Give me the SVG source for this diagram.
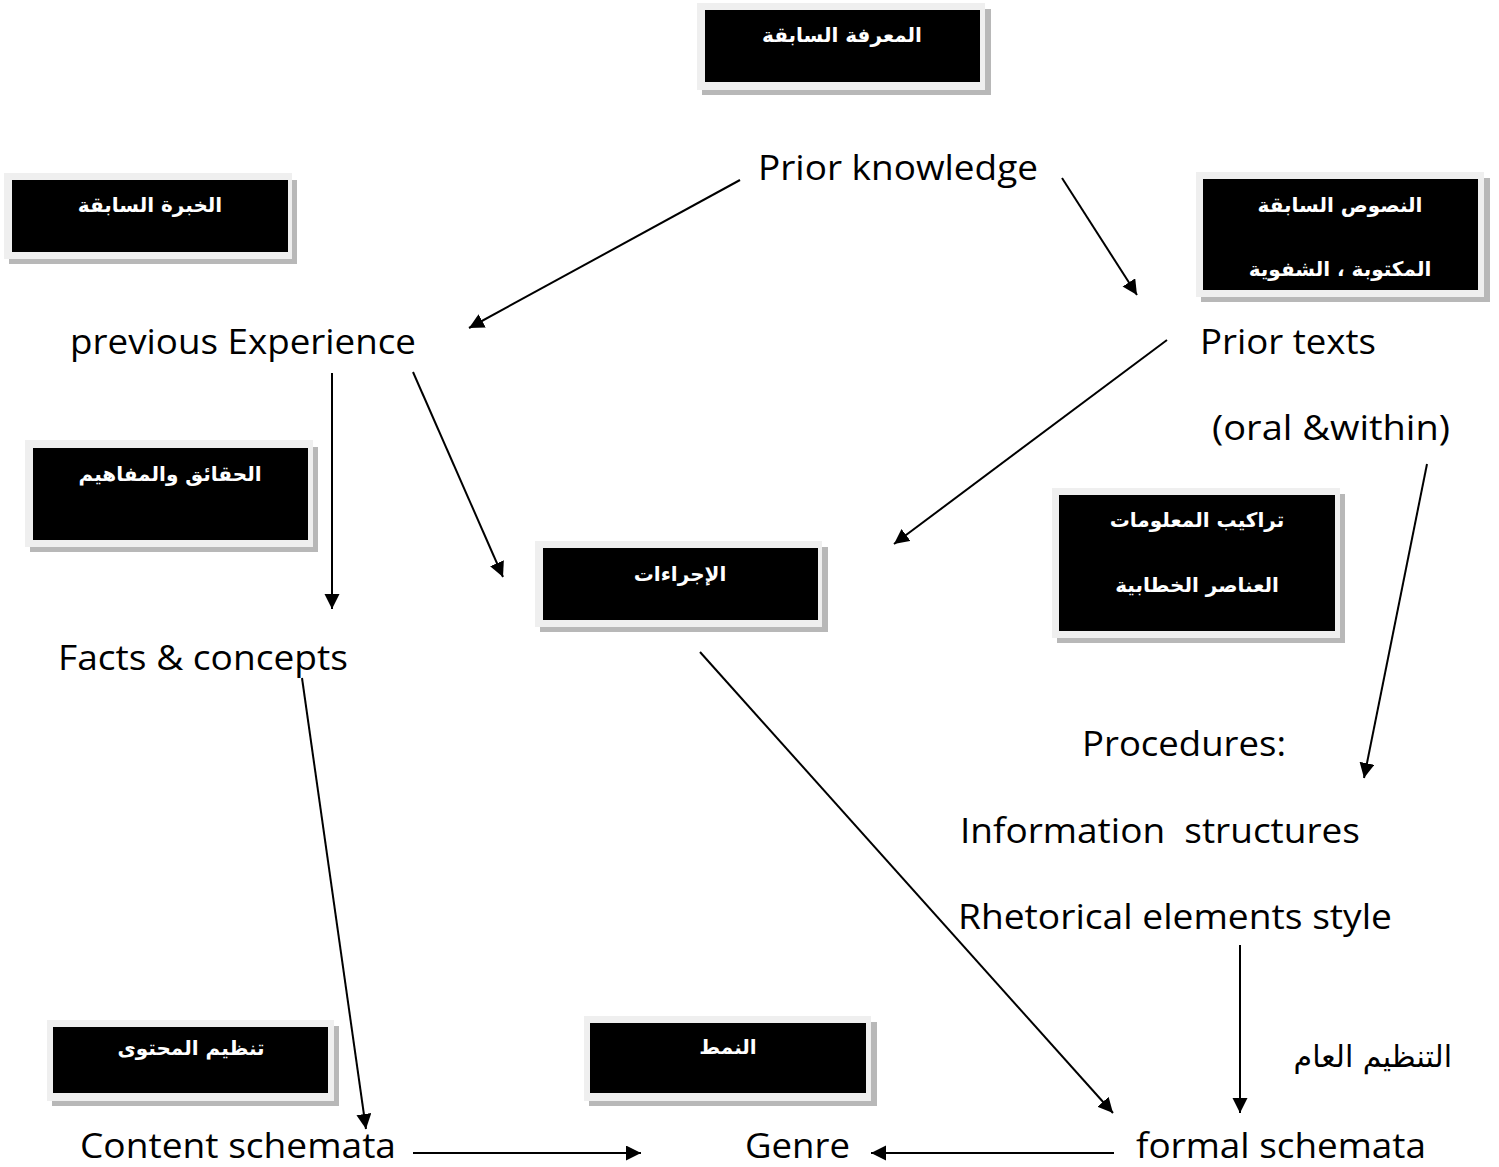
<svg xmlns="http://www.w3.org/2000/svg" width="1499" height="1167" viewBox="0 0 1499 1167">
<style>
.frame{fill:#efefef}
.shadow{fill:#b8b8b8}
.box{fill:#000}
.ar{font-family:"DejaVu Sans","Noto Sans",sans-serif;font-weight:bold;font-size:20px;fill:#fff;text-anchor:middle}
.en{font-family:"Open Sans","Noto Sans",sans-serif;font-size:35px;fill:#000}
.arp{font-family:"DejaVu Sans","Noto Sans",sans-serif;font-size:30px;fill:#000}
.con{stroke:#000;stroke-width:2;fill:none;marker-end:url(#ah)}
</style>
<defs>
<marker id="ah" markerUnits="userSpaceOnUse" markerWidth="18" markerHeight="16" refX="15" refY="7.5" orient="auto">
<path d="M0,0 L15,7.5 L0,15 Z" fill="#000"/>
</marker>
</defs>
<rect width="1499" height="1167" fill="#fff"/>

<g id="n-marifa">
<rect class="shadow" x="702" y="9" width="289" height="86"/>
<rect class="frame" x="697" y="3" width="288" height="87"/>
<rect class="box" x="705" y="10" width="275" height="72"/>
<text class="ar" x="842" y="42">المعرفة السابقة</text>
</g>
<g id="n-khibra">
<rect class="shadow" x="9" y="180" width="288" height="84"/>
<rect class="frame" x="4" y="173" width="288" height="86"/>
<rect class="box" x="12" y="180" width="276" height="72"/>
<text class="ar" x="150" y="212">الخبرة السابقة</text>
</g>
<g id="n-nusus">
<rect class="shadow" x="1201" y="178" width="289" height="124"/>
<rect class="frame" x="1196" y="172" width="288" height="125"/>
<rect class="box" x="1203" y="179" width="275" height="111"/>
<text class="ar" x="1340" y="212">النصوص السابقة</text>
<text class="ar" x="1340" y="276">المكتوبة ، الشفوية</text>
</g>
<g id="n-haqaiq">
<rect class="shadow" x="30" y="447" width="288" height="105"/>
<rect class="frame" x="25" y="440" width="288" height="107"/>
<rect class="box" x="33" y="448" width="275" height="92"/>
<text class="ar" x="170" y="481">الحقائق والمفاهيم</text>
</g>
<g id="n-ijraat">
<rect class="shadow" x="540" y="547" width="288" height="85"/>
<rect class="frame" x="535" y="541" width="287" height="86"/>
<rect class="box" x="543" y="548" width="275" height="72"/>
<text class="ar" x="680" y="581">الإجراءات</text>
</g>
<g id="n-tarakib">
<rect class="shadow" x="1057" y="494" width="288" height="149"/>
<rect class="frame" x="1052" y="488" width="288" height="150"/>
<rect class="box" x="1059" y="495" width="276" height="136"/>
<text class="ar" x="1197" y="527">تراكيب المعلومات</text>
<text class="ar" x="1197" y="592">العناصر الخطابية</text>
</g>
<g id="n-tanzim">
<rect class="shadow" x="52" y="1026" width="287" height="80"/>
<rect class="frame" x="47" y="1020" width="287" height="81"/>
<rect class="box" x="53" y="1027" width="275" height="66"/>
<text class="ar" x="191" y="1055">تنظيم المحتوى</text>
</g>
<g id="n-namat">
<rect class="shadow" x="589" y="1022" width="288" height="84"/>
<rect class="frame" x="584" y="1016" width="287" height="85"/>
<rect class="box" x="590" y="1023" width="276" height="70"/>
<text class="ar" x="728" y="1054">النمط</text>
</g>

<g id="n-prior-knowledge"><text class="en" x="758" y="180" textLength="280" lengthAdjust="spacingAndGlyphs">Prior knowledge</text></g>
<g id="n-previous-experience"><text class="en" x="70" y="354" textLength="346" lengthAdjust="spacingAndGlyphs">previous Experience</text></g>
<g id="n-prior-texts">
<text class="en" x="1200" y="354" textLength="176" lengthAdjust="spacingAndGlyphs">Prior texts</text>
<text class="en" x="1212" y="440" textLength="238" lengthAdjust="spacingAndGlyphs">(oral &amp;within)</text>
</g>
<g id="n-facts"><text class="en" x="58" y="670" textLength="290" lengthAdjust="spacingAndGlyphs">Facts &amp; concepts</text></g>
<g id="n-procedures">
<text class="en" x="1082" y="756" textLength="204" lengthAdjust="spacingAndGlyphs">Procedures:</text>
<text class="en" x="960" y="843" textLength="400" lengthAdjust="spacingAndGlyphs" xml:space="preserve">Information  structures</text>
<text class="en" x="958" y="929" textLength="434" lengthAdjust="spacingAndGlyphs">Rhetorical elements style</text>
</g>
<g id="n-tanzim-am"><text class="arp" x="1452" y="1067" text-anchor="end">التنظيم العام</text></g>
<g id="n-content-schemata"><text class="en" x="80" y="1158" textLength="316" lengthAdjust="spacingAndGlyphs">Content schemata</text></g>
<g id="n-genre"><text class="en" x="745" y="1158" textLength="105" lengthAdjust="spacingAndGlyphs">Genre</text></g>
<g id="n-formal-schemata"><text class="en" x="1136" y="1158" textLength="290" lengthAdjust="spacingAndGlyphs">formal schemata</text></g>

<g id="connectors">
<line class="con" x1="740" y1="180" x2="469" y2="328"/>
<line class="con" x1="1062" y1="178" x2="1137" y2="295"/>
<line class="con" x1="332" y1="373" x2="332" y2="609"/>
<line class="con" x1="413" y1="372" x2="503" y2="577"/>
<line class="con" x1="1167" y1="340" x2="894" y2="544"/>
<line class="con" x1="1427" y1="464" x2="1364" y2="778"/>
<line class="con" x1="302" y1="678" x2="366" y2="1129"/>
<line class="con" x1="700" y1="652" x2="1113" y2="1113"/>
<line class="con" x1="1240" y1="945" x2="1240" y2="1113"/>
<line class="con" x1="413" y1="1153" x2="641" y2="1153"/>
<line class="con" x1="1114" y1="1153" x2="871" y2="1153"/>
</g>
</svg>
